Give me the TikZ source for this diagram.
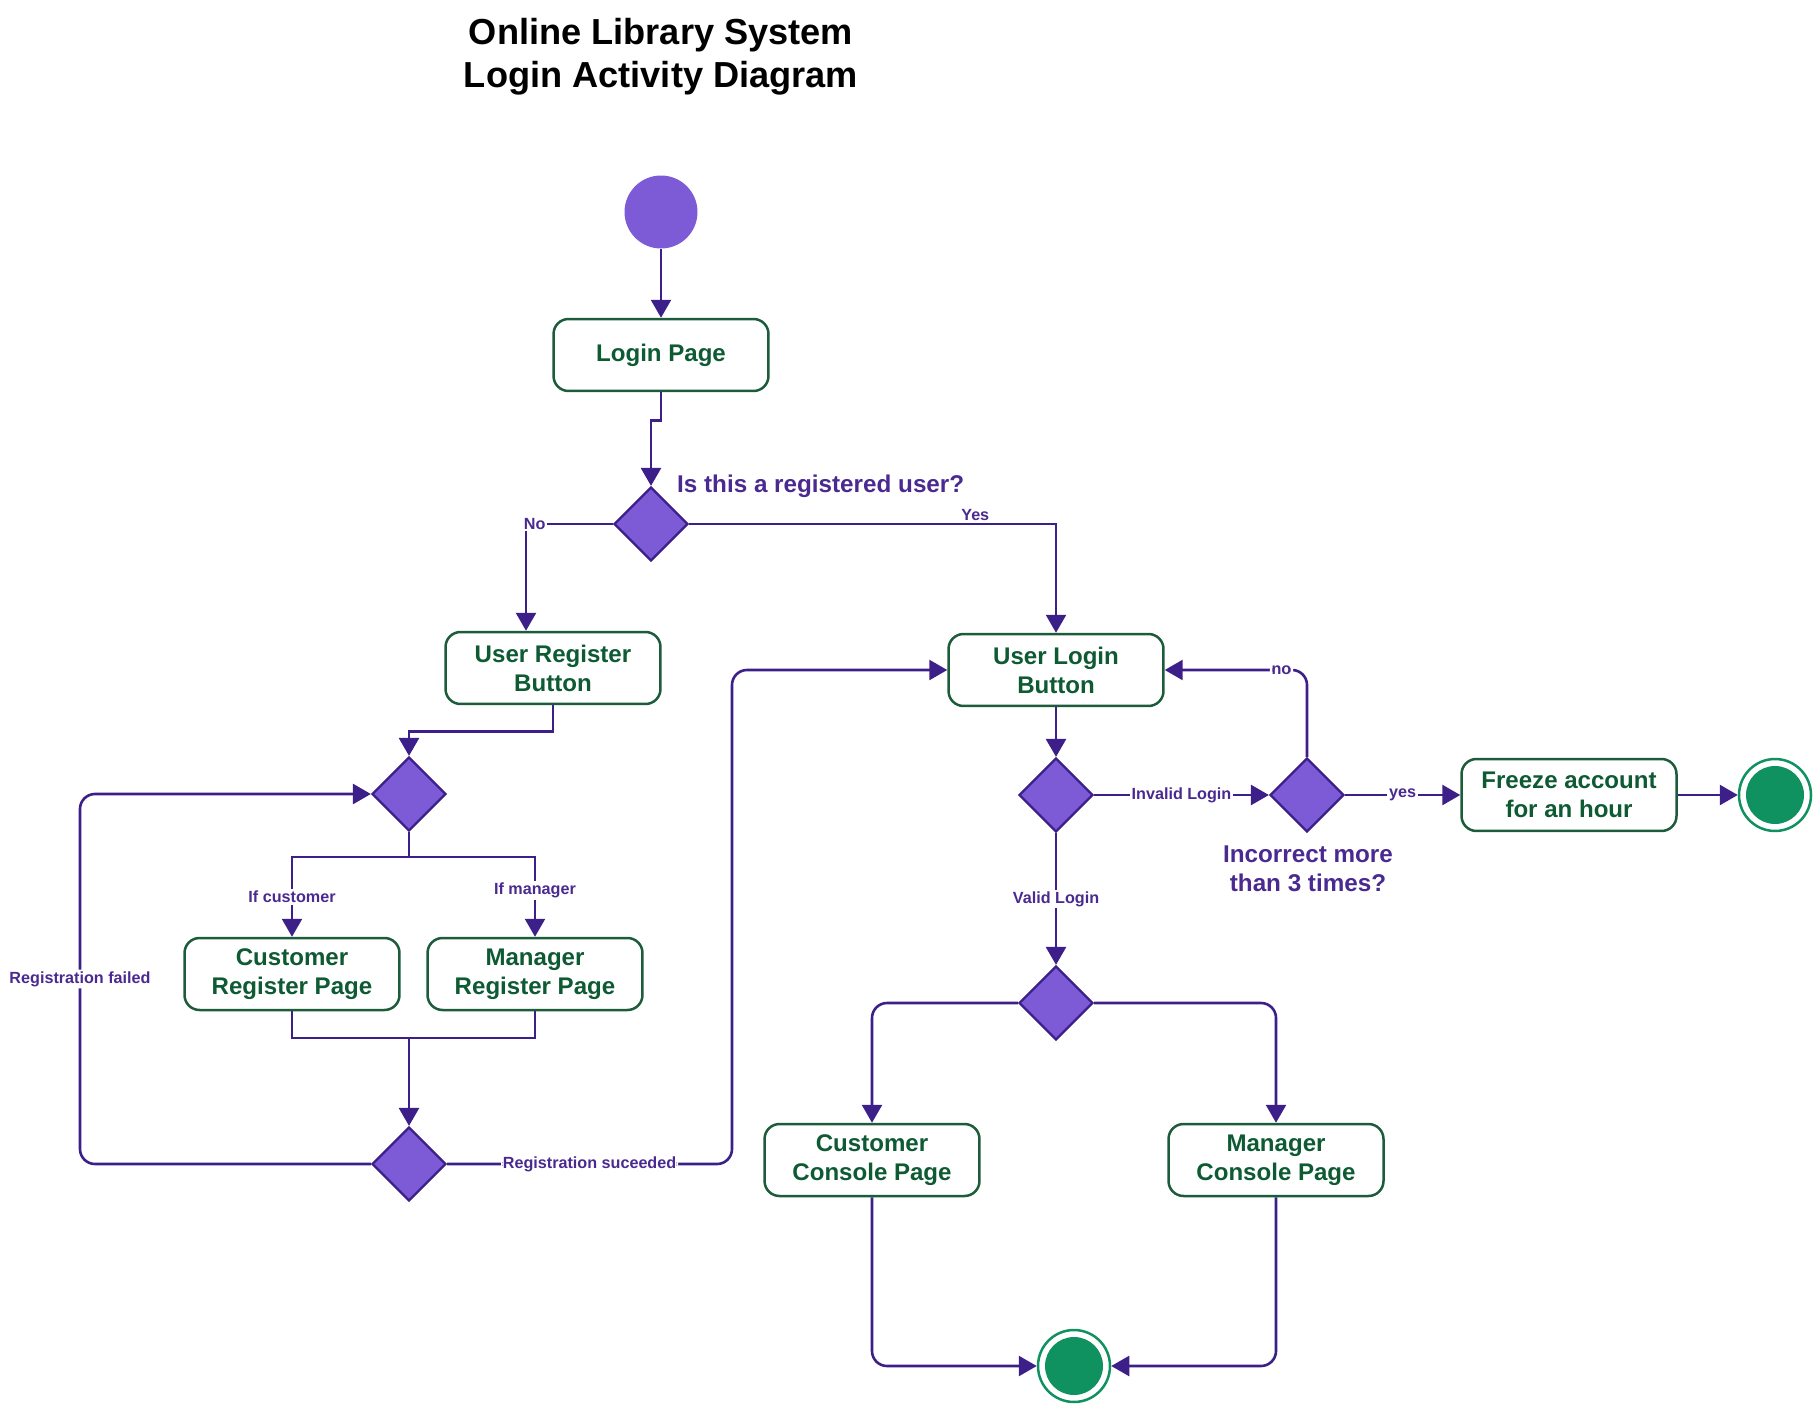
\documentclass[tikz,border=0pt]{standalone}
\usepackage{fontspec}
\setmainfont{Liberation Sans}
\usetikzlibrary{shapes.geometric, arrows.meta}

\definecolor{flowpurple}{HTML}{3C1F88}
\definecolor{fillpurple}{HTML}{7D5BD7}
\definecolor{textpurple}{HTML}{4A2A90}
\definecolor{boxgreen}{HTML}{1C5C3A}
\definecolor{textgreen}{HTML}{0D5A33}
\definecolor{endgreen}{HTML}{0F9160}

\begin{document}
\begin{tikzpicture}[x=0.02cm, y=-0.02cm,
    activity/.style={draw=boxgreen, line width=0.05cm, rounded corners=0.3cm, fill=white,
        minimum width=4.3cm, minimum height=1.44cm, align=center, text=textgreen,
        font=\bfseries\fontsize{13.7}{16.5}\selectfont},
    decision/.style={diamond, draw=flowpurple, fill=fillpurple, line width=0.045cm,
        minimum width=1.48cm, minimum height=1.48cm, inner sep=0pt},
    startnode/.style={circle, fill=fillpurple, minimum size=1.46cm, inner sep=0pt},
    endnode/.style={circle, draw=endgreen, line width=0.05cm, minimum size=1.44cm, inner sep=0pt,
        path picture={\fill[endgreen] (path picture bounding box.center) circle (0.58cm);}},
    connector/.style={draw=flowpurple, line width=0.052cm},
    flow/.style={connector, -{Triangle[length=0.36cm, width=0.4cm]}},
    lbl/.style={fill=white, inner sep=1pt, text=textpurple, font=\bfseries\fontsize{9.2}{11}\selectfont},
    question/.style={text=textpurple, align=center, font=\bfseries\fontsize{13.8}{16.5}\selectfont}]
    \useasboundingbox (0, 0) rectangle (1814, 1405);

    \node[font=\bfseries\fontsize{20.6}{24.5}\selectfont, align=center] (title) at (661, 57)
        {Online Library System\\Login Activity Diagram};

    \node[startnode] (start) at (661, 212) {};
    \node[activity] (login) at (661, 355) {Login Page};
    \node[decision] (regq) at (651, 524) {};
    \node[question, anchor=west] (regqtext) at (671, 486) {Is this a registered user?};

    \node[activity] (regbtn) at (553, 668) {User Register\\Button};
    \node[activity] (loginbtn) at (1056, 670) {User Login\\Button};

    \node[decision] (regdec) at (409, 794) {};
    \node[activity] (custreg) at (292, 974) {Customer\\Register Page};
    \node[activity] (manreg) at (535, 974) {Manager\\Register Page};
    \node[decision] (resdec) at (409, 1164) {};

    \node[decision] (logdec) at (1056, 795) {};
    \node[decision] (incdec) at (1307, 795) {};
    \node[question] (inctext) at (1308, 869) {Incorrect more\\than 3 times?};
    \node[activity] (freeze) at (1569, 795) {Freeze account\\for an hour};
    \node[endnode] (endR) at (1775, 795) {};

    \node[decision] (condec) at (1056, 1003) {};
    \node[activity] (custcon) at (872, 1160) {Customer\\Console Page};
    \node[activity] (mancon) at (1276, 1160) {Manager\\Console Page};
    \node[endnode] (endB) at (1074, 1366) {};

    \coordinate (regjoin) at (409, 1038);
    \coordinate (failed) at (80, 979);
    \coordinate (succeeded) at (732, 1164);

    \draw[flow] (start) -- (login);
    \draw[flow] (login.south) -- ++(0, 28) -| (regq);
    \draw[flow] (regq) -| node[lbl, pos=0.45] {No} ([xshift=-0.54cm]regbtn.north);
    \draw[flow] (regq) -| node[lbl, pos=0.39, anchor=south, fill=none] {Yes} (loginbtn);

    \draw[flow] (regbtn.south) -- ++(0, 26) -| (regdec);
    \draw[flow] (regdec.south) -- ++(0, 25) -| node[lbl, pos=0.75] {If customer} (custreg);
    \draw[flow] (regdec.south) -- ++(0, 25) -| node[lbl, pos=0.71] {If manager} (manreg);
    \draw[connector] (custreg) |- (regjoin);
    \draw[connector] (manreg) |- (regjoin);
    \draw[flow] (regjoin) -- (resdec);
    \draw[flow, rounded corners=0.3cm] (resdec) -| (failed) node[lbl] {Registration failed} |- (regdec);
    \draw[flow, rounded corners=0.3cm] (resdec) -- node[lbl] {Registration suceeded} (succeeded) |- (loginbtn);

    \draw[flow] (loginbtn) -- (logdec);
    \draw[flow] (logdec) -- node[lbl] {Invalid Login} (incdec);
    \draw[flow, rounded corners=0.3cm] (incdec) |- node[lbl, pos=0.59] {no} (loginbtn);
    \draw[flow] (incdec) -- node[lbl] {yes} (freeze);
    \draw[flow] (freeze) -- (endR);
    \draw[flow] (logdec) -- node[lbl] {Valid Login} (condec);

    \draw[flow, rounded corners=0.3cm] (condec) -| (custcon);
    \draw[flow, rounded corners=0.3cm] (condec) -| (mancon);
    \draw[flow, rounded corners=0.3cm] (custcon) |- (endB);
    \draw[flow, rounded corners=0.3cm] (mancon) |- (endB);
\end{tikzpicture}
\end{document}
